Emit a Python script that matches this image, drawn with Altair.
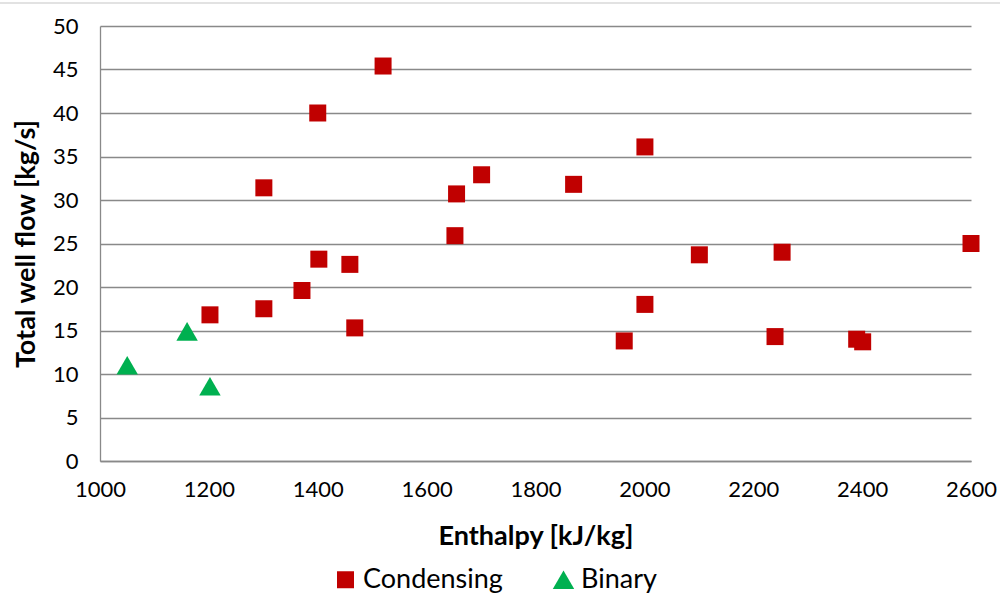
import altair as alt
import pandas as pd

cond_x = [1520, 1400, 1301, 1402, 1459, 1371, 1301, 1202, 1468, 1652, 1655, 1701,
          1870, 2001, 2001, 1963, 2101, 2253, 2240, 2390, 2401, 2600]
cond_y = [45.4, 40.0, 31.4, 23.2, 22.6, 19.6, 17.5, 16.8, 15.3, 25.9, 30.7, 32.9,
          31.8, 36.1, 18.0, 13.8, 23.7, 24.0, 14.3, 14.0, 13.7, 25.0]
bin_x = [1050, 1160, 1202]
bin_y = [11.0, 14.9, 8.6]

series = ["Condensing", "Binary"]
colors = ["#C00000", "#00B050"]
shapes = ["square", "triangle-up"]
sizes = [289, 460]

df = pd.DataFrame({
    "x": cond_x + bin_x,
    "y": cond_y + bin_y,
    "s": ["Condensing"] * len(cond_x) + ["Binary"] * len(bin_x),
})

FONT = "Lato"
W, H = 871, 435

points = alt.Chart(df).mark_point(filled=True, opacity=1).encode(
    x=alt.X("x:Q", scale=alt.Scale(domain=[1000, 2600], nice=False),
            axis=alt.Axis(values=list(range(1000, 2601, 200)), format="d",
                          title="Enthalpy [kJ/kg]", labelFlush=False,
                          grid=False, ticks=False, labelPadding=18, labelFontSize=22,
                          titleFontSize=27, titleFontWeight="bold", titleY=75,
                          titleBaseline="middle", domainColor="#898989", domainWidth=1.3,
                          labelColor="#000000", titleColor="#000000", labelFont=FONT,
                          titleFont=FONT)),
    y=alt.Y("y:Q", scale=alt.Scale(domain=[0, 50], nice=False),
            axis=alt.Axis(values=list(range(0, 51, 5)), title="Total well flow [kg/s]",
                          grid=True, gridColor="#898989", gridWidth=1.3, ticks=False,
                          labelPadding=22, labelFontSize=22, titleFontSize=27,
                          titleFontWeight="bold", titleX=-60, titleY=H / 2,
                          domainColor="#898989", domainWidth=1.3, labelColor="#000000",
                          titleColor="#000000", labelFont=FONT, titleFont=FONT)),
    color=alt.Color("s:N", scale=alt.Scale(domain=series, range=colors),
                    legend=alt.Legend(title=None, orient="none", direction="horizontal",
                                      legendX=232, legendY=540, labelFontSize=27,
                                      labelFont=FONT, labelColor="#000000",
                                      symbolStrokeWidth=0,
                                      columnPadding=47, labelOffset=4)),
    shape=alt.Shape("s:N", scale=alt.Scale(domain=series, range=shapes)),
    size=alt.Size("s:N", scale=alt.Scale(domain=series, range=sizes)),
    order=alt.Order("x:Q"),
)

border = alt.Chart(pd.DataFrame({"a": [0]})).mark_rule(color="#d9d9d9", strokeWidth=1.5).encode(
    x=alt.value(-100), x2=alt.value(900), y=alt.value(-23)
)

chart = alt.layer(border, points).properties(
    width=W, height=H,
    autosize=alt.AutoSizeParams(type="none"),
    padding={"left": 100, "top": 26, "right": 29, "bottom": 134},
    background="white",
).configure_view(stroke=None)

chart.save("out.html", embed_options={"renderer": "svg", "actions": False})
